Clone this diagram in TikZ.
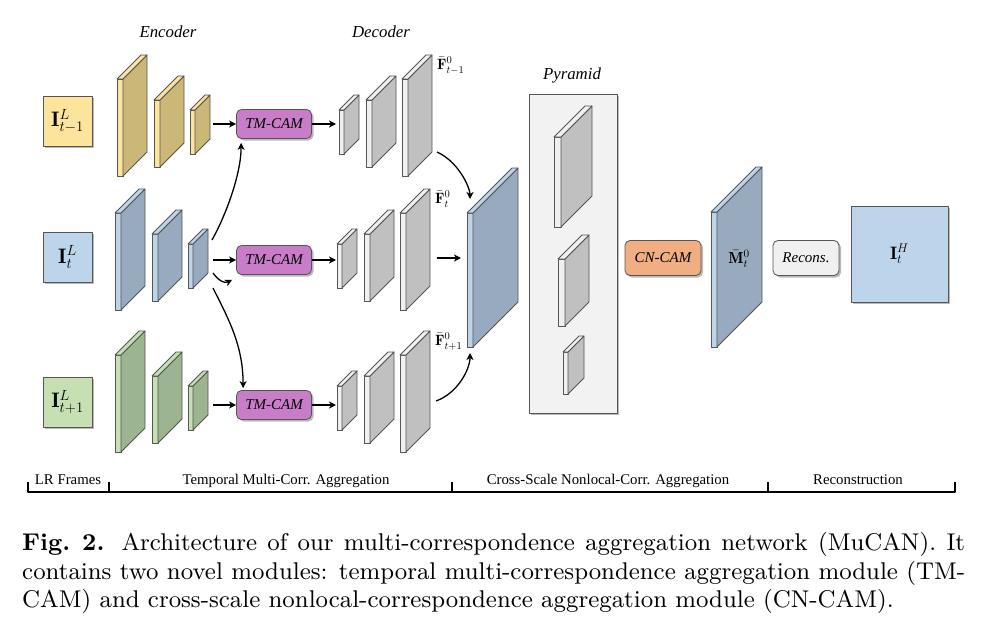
\RequirePackage{fix-cm}
\documentclass[tikz,border=0pt]{standalone}
\usepackage{fontspec}
\newfontfamily\tms{Liberation Serif}
\newfontfamily\capfont{lmroman9-regular}[Extension=.otf,BoldFont=lmroman9-bold]
\usetikzlibrary{arrows.meta,shadows}
\definecolor{edge}{HTML}{555555}
\definecolor{ylwfront}{HTML}{FCE49C}
\definecolor{ylwside}{HTML}{CBB878}
\definecolor{blufront}{HTML}{BDD5EB}
\definecolor{bluside}{HTML}{98AABD}
\definecolor{grnfront}{HTML}{C6E0B4}
\definecolor{grnside}{HTML}{9CB48F}
\definecolor{gryfront}{HTML}{F0F0F0}
\definecolor{gryside}{HTML}{C0C0C0}
\definecolor{tmcol}{HTML}{C97DC8}
\definecolor{cncol}{HTML}{F1AE82}
\definecolor{pyrcol}{HTML}{F2F2F2}

% name, x, top, height, width, depth, front colour, side colour
\newcommand{\layer}[8]{%
  \filldraw[fill=#7,draw=edge,line width=0.8pt] (#2,#3) rectangle ({#2+#5},{#3+#4});
  \filldraw[fill=#8,draw=edge,line width=0.8pt] ({#2+#5},#3) -- ({#2+#5+#6},{#3-#6})
    -- ({#2+#5+#6},{#3+#4-#6}) -- ({#2+#5},{#3+#4}) -- cycle;
  \filldraw[fill=#7,draw=edge,line width=0.8pt] (#2,#3) -- ({#2+#6},{#3-#6})
    -- ({#2+#5+#6},{#3-#6}) -- ({#2+#5},#3) -- cycle;
  \coordinate (#1-n) at ({#2+#5/2},#3);
  \coordinate (#1-s) at ({#2+#5/2},{#3+#4});
  \coordinate (#1-w) at (#2,{#3+#4/2});
}

\begin{document}
\begin{tikzpicture}[x=1pt,y=-1pt,line join=round,
  flow/.style={->,line width=1.3pt,>={Stealth[length=7pt,width=7pt,inset=2pt]}},
  shade box/.style={drop shadow={shadow xshift=2pt,shadow yshift=-2pt,opacity=0.45,fill=black!60}},
  module/.style={shade box,draw=edge,line width=0.8pt,rounded corners=5pt,minimum width=75pt,
    minimum height=29pt,inner sep=0pt,font=\tms\itshape\fontsize{15}{18}\selectfont},
  inbox/.style={shade box,draw=edge,line width=0.8pt,minimum width=49pt,minimum height=50pt,
    inner sep=0pt,font=\fontsize{21}{24}\selectfont},
  flabel/.style={anchor=north west,inner sep=1pt,font=\fontsize{15}{17}\selectfont},
  headline/.style={font=\tms\itshape\fontsize{16.8}{20}\selectfont},
  section/.style={anchor=base,inner sep=0pt,font=\tms\fontsize{14.8}{18}\selectfont}]

  \fill[white,use as bounding box] (0,0) rectangle (989,626);

  \node[headline] (enc) at (168,32) {Encoder};
  \node[headline] (dec) at (381,32) {Decoder};
  \node[headline] (pyr-t) at (572,75) {Pyramid};

  \foreach \r/\s/\oy/\ox/\ty/\fr/\sd in {p/t-1/0/2/124/ylwfront/ylwside,
      c/t/134/0/260/blufront/bluside, n/t+1/276/0/405/grnfront/grnside}{
    \node[inbox,fill=\fr] (in-\r) at (67.5,{\ty-3}) {$\mathbf{I}^{L}_{\s}$};
    \node[module,fill=tmcol] (tm-\r) at (274,\ty) {TM-CAM};
    \begin{scope}[shift={(\ox,\oy)}]
      \layer{e1-\r}{115}{79}{97}{6}{24}{\fr}{\sd}
      \layer{e2-\r}{152}{100}{67}{6}{24}{\fr}{\sd}
      \layer{e3-\r}{188}{110}{44}{5}{15}{\fr}{\sd}
      \layer{d1-\r}{337}{110}{44}{5}{15}{gryfront}{gryside}
      \layer{d2-\r}{364}{100}{67}{6}{24}{gryfront}{gryside}
      \layer{d3-\r}{400}{79}{97}{6}{24}{gryfront}{gryside}
      \node[flabel] (f-\r) at (434,56) {$\bar{\mathbf{F}}^{0}_{\s}$};
    \end{scope}
    \coordinate (ei-\r) at (213,\ty);
    \coordinate (do-\r) at (336,\ty);
    \draw[flow] (ei-\r) -- (tm-\r);
    \draw[flow] (tm-\r) -- (do-\r);
  }

  \coordinate (up-c) at (212,240);
  \coordinate (hk-c) at (213,273);
  \coordinate (dn-c) at (213,288);
  \draw[flow,shorten >=4pt] (up-c) .. controls +(14,-25) and +(0,35) .. ([xshift=5pt]tm-p.south west);
  \draw[flow] (hk-c) .. controls +(5,7) and +(-8,4) .. ([xshift=-4pt,yshift=-5pt]tm-c.south west);
  \draw[flow,shorten >=2pt] (dn-c) .. controls +(15,30) and +(0,-45) .. ([xshift=7pt]tm-n.north west);

  \layer{agg}{467}{213}{134}{6}{45}{blufront}{bluside}
  \coordinate (fo-p) at (437,152);
  \coordinate (fo-c) at (437,258);
  \coordinate (fo-n) at (436,401);
  \draw[flow,shorten >=14pt] (fo-p) .. controls +(22,10) and +(0,-25) .. (agg-n);
  \draw[flow,shorten >=6pt] (fo-c) -- (fo-c -| agg-w);
  \draw[flow,shorten >=6pt] (fo-n) .. controls +(22,-8) and +(0,22) .. (agg-s);

  \node[shade box,draw=edge,line width=0.8pt,fill=pyrcol,minimum width=88pt,minimum height=319pt,
    inner sep=0pt] (pyr) at (573,253.5) {};
  \layer{p1}{554}{137}{90}{7}{31}{gryfront}{gryside}
  \layer{p2}{558}{259}{67}{7}{24}{gryfront}{gryside}
  \layer{p3}{563}{352}{42}{5}{16}{gryfront}{gryside}

  \node[module,fill=cncol,minimum width=76pt,minimum height=35pt] (cn) at (663,258) {CN-CAM};
  \layer{mt}{711}{212}{135}{6}{45}{blufront}{bluside}
  \node[font=\fontsize{16}{18}\selectfont] (m-lab) at (739,259) {$\bar{\mathbf{M}}^{0}_{t}$};
  \node[module,fill=gryfront,minimum width=66pt,minimum height=35pt] (recons) at (806,258) {Recons.};
  \node[inbox,fill=blufront,minimum width=97pt,minimum height=96pt,font=\fontsize{18}{20}\selectfont]
    (out) at (899.5,254) {$\mathbf{I}^{H}_{t}$};

  \draw[line width=1.3pt] (28,482) -- (28,492) -- (955,492) -- (955,482);
  \foreach \x in {109,452,768}
    \draw[line width=1.3pt] (\x,482) -- (\x,492);
  \node[section] (lr) at (68,484) {LR Frames};
  \node[section] (tma) at (286,484) {Temporal Multi-Corr. Aggregation};
  \node[section] (csa) at (608,484) {Cross-Scale Nonlocal-Corr. Aggregation};
  \node[section] (rec) at (858,484) {Reconstruction};

  \node[anchor=north west,inner sep=0pt,text width=943pt,align=justify,
    font=\capfont\fontsize{24.2}{28.7}\selectfont] (cap) at (22,532)
    {\textbf{Fig.\ 2.} Architecture of our multi-correspondence aggregation network (MuCAN). It\linebreak
     contains two novel modules: temporal multi-correspondence aggregation module (TM-\linebreak
     CAM) and cross-scale nonlocal-correspondence aggregation module (CN-CAM).};
\end{tikzpicture}
\end{document}
